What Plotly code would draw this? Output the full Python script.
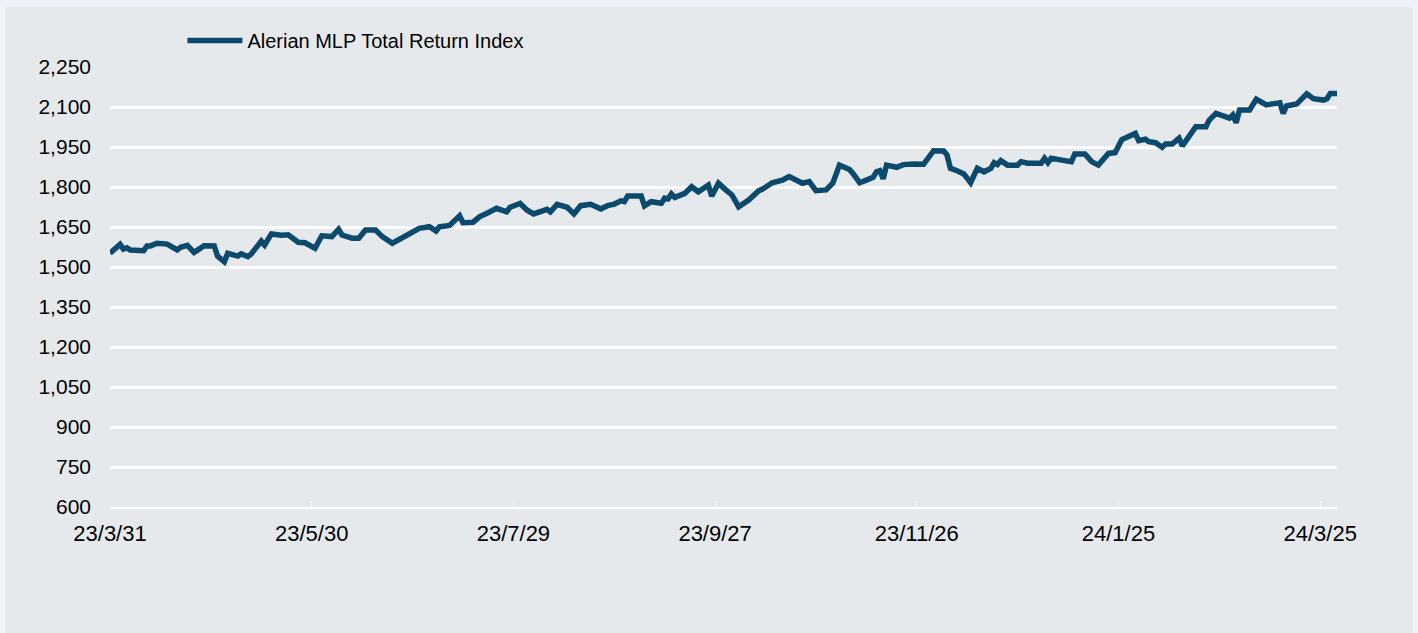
import plotly.graph_objects as go

dates = [
    "2023-03-31", "2023-04-03", "2023-04-04", "2023-04-05", "2023-04-06", "2023-04-10",
    "2023-04-11", "2023-04-12", "2023-04-14", "2023-04-17", "2023-04-20", "2023-04-21",
    "2023-04-23", "2023-04-25", "2023-04-28", "2023-05-01", "2023-05-02", "2023-05-04",
    "2023-05-05", "2023-05-08", "2023-05-09", "2023-05-11", "2023-05-12", "2023-05-15",
    "2023-05-16", "2023-05-18", "2023-05-21", "2023-05-23", "2023-05-26", "2023-05-28",
    "2023-05-31", "2023-06-02", "2023-06-05", "2023-06-07", "2023-06-08", "2023-06-11",
    "2023-06-13", "2023-06-15", "2023-06-18", "2023-06-20", "2023-06-23", "2023-06-26",
    "2023-06-29", "2023-07-01", "2023-07-04", "2023-07-06", "2023-07-07", "2023-07-10",
    "2023-07-13", "2023-07-14", "2023-07-17", "2023-07-19", "2023-07-21", "2023-07-24",
    "2023-07-27", "2023-07-28", "2023-07-31", "2023-08-02", "2023-08-04", "2023-08-08",
    "2023-08-09", "2023-08-11", "2023-08-14", "2023-08-16", "2023-08-18", "2023-08-21",
    "2023-08-24", "2023-08-26", "2023-08-28", "2023-08-30", "2023-08-31", "2023-09-01",
    "2023-09-05", "2023-09-06", "2023-09-08", "2023-09-11", "2023-09-12", "2023-09-13",
    "2023-09-14", "2023-09-15", "2023-09-18", "2023-09-20", "2023-09-22", "2023-09-25",
    "2023-09-26", "2023-09-28", "2023-09-30", "2023-10-02", "2023-10-04", "2023-10-07",
    "2023-10-10", "2023-10-11", "2023-10-14", "2023-10-17", "2023-10-19", "2023-10-21",
    "2023-10-23", "2023-10-25", "2023-10-27", "2023-10-30", "2023-11-01", "2023-11-03",
    "2023-11-06", "2023-11-07", "2023-11-09", "2023-11-11", "2023-11-13", "2023-11-14",
    "2023-11-15", "2023-11-16", "2023-11-17", "2023-11-20", "2023-11-22", "2023-11-25",
    "2023-11-28", "2023-12-01", "2023-12-04", "2023-12-05", "2023-12-06", "2023-12-08",
    "2023-12-10", "2023-12-11", "2023-12-12", "2023-12-14", "2023-12-16", "2023-12-18",
    "2023-12-19", "2023-12-20", "2023-12-21", "2023-12-23", "2023-12-26", "2023-12-27",
    "2023-12-29", "2024-01-02", "2024-01-03", "2024-01-04", "2024-01-05", "2024-01-09",
    "2024-01-11", "2024-01-12", "2024-01-15", "2024-01-17", "2024-01-19", "2024-01-22",
    "2024-01-24", "2024-01-26", "2024-01-28", "2024-01-30", "2024-01-31", "2024-02-02",
    "2024-02-03", "2024-02-05", "2024-02-07", "2024-02-08", "2024-02-10", "2024-02-12",
    "2024-02-13", "2024-02-15", "2024-02-17", "2024-02-20", "2024-02-21", "2024-02-23",
    "2024-02-26", "2024-02-27", "2024-02-28", "2024-02-29", "2024-03-01", "2024-03-04",
    "2024-03-06", "2024-03-09", "2024-03-13", "2024-03-14", "2024-03-15", "2024-03-18",
    "2024-03-21", "2024-03-23", "2024-03-26", "2024-03-27", "2024-03-28", "2024-03-30",
]

index_values = [
    1552, 1585, 1567, 1572, 1564, 1561,
    1579, 1579, 1589, 1586, 1564, 1574,
    1581, 1555, 1580, 1579, 1541, 1520,
    1551, 1541, 1549, 1539, 1549, 1597,
    1582, 1624, 1619, 1621, 1593, 1591,
    1570, 1617, 1614, 1641, 1620, 1608,
    1608, 1639, 1639, 1614, 1589, 1608,
    1632, 1645, 1651, 1635, 1651, 1656,
    1692, 1666, 1668, 1689, 1701, 1720,
    1707, 1724, 1738, 1714, 1699, 1716,
    1707, 1735, 1724, 1699, 1730, 1735,
    1718, 1730, 1736, 1748, 1745, 1766,
    1766, 1729, 1745, 1739, 1758, 1755,
    1774, 1761, 1776, 1801, 1782, 1807,
    1766, 1814, 1791, 1770, 1726, 1751,
    1786, 1791, 1816, 1826, 1839, 1826,
    1814, 1820, 1786, 1789, 1814, 1882,
    1866, 1851, 1816, 1826, 1836, 1857,
    1861, 1831, 1882, 1874, 1884, 1886,
    1885, 1936, 1935, 1920, 1870, 1861,
    1849, 1833, 1816, 1870, 1857, 1870,
    1891, 1884, 1899, 1882, 1882, 1895,
    1889, 1889, 1908, 1891, 1908, 1899,
    1895, 1924, 1924, 1895, 1882, 1926,
    1929, 1978, 1989, 2001, 1974, 1979,
    1970, 1966, 1949, 1961, 1961, 1983,
    1954, 1991, 2026, 2026, 2051, 2076,
    2064, 2058, 2070, 2041, 2089, 2089,
    2129, 2108, 2116, 2076, 2104, 2111,
    2149, 2131, 2126, 2131, 2151, 2151,
]

series_name = "Alerian MLP Total Return Index"

FONT = "Liberation Sans, Arial, sans-serif"
LINE_COLOR = "#0b4a6c"
CHART_BG = "#e6e9ec"
PAGE_BG = "#eef2f9"

fig = go.Figure()
fig.add_trace(go.Scatter(
    x=dates, y=index_values, mode="lines", name=series_name,
    line=dict(color=LINE_COLOR, width=5.5),
))

fig.update_layout(
    width=1418, height=633,
    margin=dict(l=110, r=81, t=67, b=126),
    paper_bgcolor=PAGE_BG,
    plot_bgcolor=CHART_BG,
    font=dict(family=FONT, size=20, color="#000000"),
    showlegend=True,
    legend=dict(
        x=0.059, y=1.06, xanchor="left", yanchor="middle",
        orientation="h", bgcolor="rgba(0,0,0,0)",
        font=dict(family=FONT, size=20, color="#000000"),
        itemwidth=55,
    ),
    shapes=[dict(
        type="rect", xref="paper", yref="paper",
        x0=-0.0855, x1=1.0616, y0=-0.30, y1=1.136,
        fillcolor=CHART_BG, line=dict(width=0), layer="below",
    )],
    xaxis=dict(
        type="date",
        range=["2023-03-31", "2024-03-30"],
        tick0="2023-03-31", dtick=60 * 86400000,
        tickformat="%y/%-m/%-d",
        showgrid=False,
        showline=True, linecolor="#ffffff", linewidth=1.5,
        ticks="inside", ticklen=6, tickcolor="#ffffff", tickwidth=1,
        tickfont=dict(family=FONT, size=22, color="#000000"),
        ticklabelstandoff=6,
        zeroline=False,
    ),
    yaxis=dict(
        range=[600, 2250], dtick=150, tick0=600,
        tickformat=",",
        showgrid=True, gridcolor="#ffffff", gridwidth=2.5,
        showline=False, zeroline=False, ticks="",
        tickfont=dict(family=FONT, size=21, color="#000000"),
        ticklabelstandoff=18,
    ),
)

fig.write_html(
    "out.html",
    config={"displayModeBar": False},
    post_script="document.body.style.margin='0';document.body.style.background='%s';" % PAGE_BG,
)
